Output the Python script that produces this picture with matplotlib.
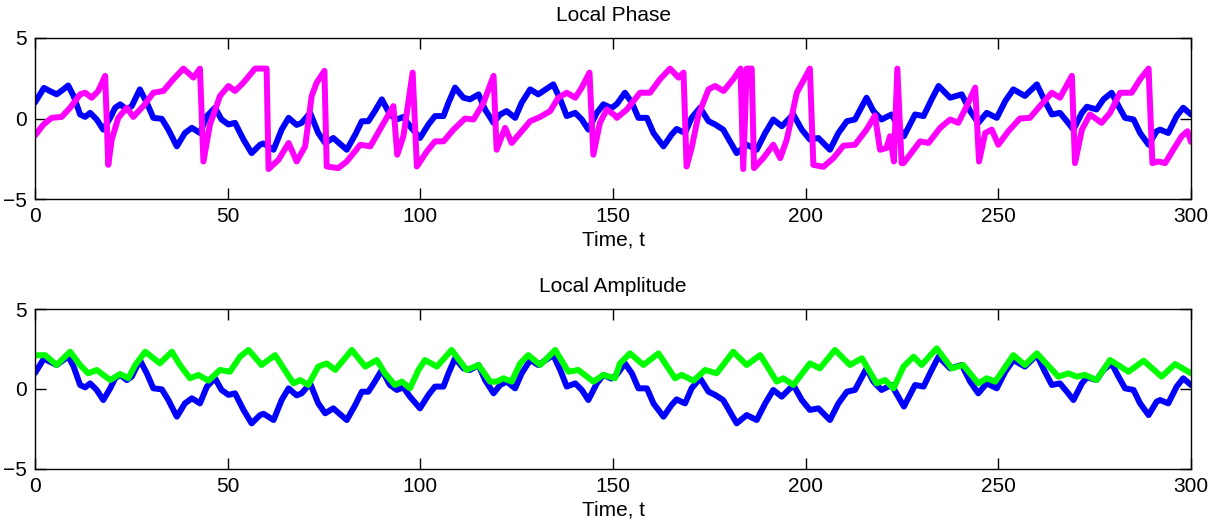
import numpy as np
from matplotlib import pyplot as plt

plt.rcParams['font.family'] = ['Liberation Sans', 'DejaVu Sans']
plt.rcParams['font.size'] = 15

# original signal (blue)
t_sig = [0, 2.3, 3.9, 5.6, 7.3, 8.6, 10.0, 11.7, 13.0, 14.3, 16.0, 17.7, 19.5, 20.8,
         22.1, 23.8, 25.1, 27.2, 29.0, 30.7, 32.9, 34.6, 36.8, 38.9, 40.7, 42.8, 44.6,
         46.7, 48.4, 50.2, 51.9, 54.1, 56.2, 58.4, 59.3, 61.9, 64.0, 65.8, 67.9, 69.2,
         71.4, 73.5, 75.3, 77.4, 80.9, 83.1, 84.8, 86.5, 88.2, 90.0, 92.1, 93.9, 95.6,
         97.3, 99.9, 102.1, 103.8, 106.0, 107.3, 109.0, 111.2, 112.9, 115.1, 116.8,
         119.0, 120.7, 122.4, 124.6, 126.3, 128.5, 130.6, 134.5, 136.3, 138.0, 140.2,
         141.9, 143.6, 145.8, 147.5, 149.6, 151.0, 153.1, 154.9, 156.6, 158.8, 160.5,
         163.1, 165.2, 166.5, 168.7, 170.4, 172.6, 174.8, 176.5, 178.6, 182.1, 184.7,
         187.3, 189.5, 191.6, 193.8, 196.8, 199.0, 201.1, 203.3, 206.3, 208.5, 210.7,
         212.8, 215.8, 217.6, 219.7, 222.3, 225.5, 228.4, 230.6, 232.7, 234.5, 237.5,
         240.5, 242.7, 244.8, 247.0, 249.6, 251.8, 253.9, 256.9, 260.0, 262.1, 263.9,
         266.0, 267.8, 269.5, 271.7, 273.0, 275.5, 277.3, 279.4, 281.2, 282.9, 285.1,
         286.8, 289.0, 291.1, 292.0, 294.1, 296.3, 298.0, 300.0]
sig = [1.0, 1.9, 1.7, 1.5, 1.8, 2.05, 1.4, 0.25, 0.1, 0.35, -0.06, -0.69, 0.04, 0.67,
       0.88, 0.56, 0.77, 1.81, 0.98, 0.04, -0.02, -0.69, -1.73, -0.9, -0.58, -0.9, 0.15,
       0.67, -0.06, -0.37, -0.27, -1.31, -2.15, -1.63, -1.55, -1.94, -0.69, 0.04, -0.4,
       -0.27, 0.35, -0.9, -1.52, -1.21, -1.94, -1.0, -0.17, -0.17, 0.46, 1.19, 0.25,
       -0.06, 0.1, -0.48, -1.21, -0.37, 0.15, 0.15, 0.98, 1.92, 1.29, 1.19, 1.5, 0.56,
       -0.27, 0.25, 0.46, 0.04, 0.98, 1.81, 1.5, 2.12, 1.19, 0.15, 0.35, -0.06, -0.69,
       0.35, 0.88, 0.65, 0.9, 1.6, 0.98, 0.04, 0.04, -0.9, -1.73, -1.0, -0.65, -0.9,
       0.04, 0.67, -0.17, -0.37, -0.69, -2.15, -1.63, -1.94, -0.9, -0.06, -0.48, 0.25,
       -0.69, -1.31, -1.21, -1.94, -0.9, -0.17, -0.06, 1.29, 0.46, -0.06, 0.25, -1.1,
       0.25, 0.15, 1.19, 2.02, 1.29, 1.5, 0.46, -0.27, 0.35, 0.04, 1.08, 1.81, 1.4,
       2.12, 1.08, 0.25, 0.35, -0.17, -0.69, 0.35, 0.73, 0.56, 1.19, 1.6, 0.77, 0.04,
       -0.06, -0.9, -1.63, -0.79, -0.69, -0.9, 0.15, 0.67, 0.25]

# local phase (magenta)
t_phase = [0, 2.2, 4.3, 6.9, 9.1, 11.7, 13.0, 14.7, 16.4, 18.2, 19.0, 19.9, 21.6, 23.8,
           25.5, 28.1, 30.7, 33.3, 35.9, 38.5, 41.1, 42.8, 43.7, 45.4, 48.0, 50.2, 51.9,
           54.1, 57.1, 60.1, 60.6, 63.2, 65.8, 67.9, 70.1, 71.8, 73.1, 75.1, 75.7, 78.7,
           80.9, 84.4, 87.0, 89.5, 93.0, 94.0, 95.6, 98.0, 99.1, 101.7, 103.8, 106.0,
           108.6, 111.6, 113.8, 116.4, 119.0, 119.8, 122.0, 123.7, 125.9, 128.5, 131.1,
           133.7, 135.8, 138.0, 140.2, 141.9, 143.9, 144.9, 146.6, 148.4, 150.5, 151.0,
           153.6, 157.0, 159.6, 162.2, 164.8, 167.0, 168.3, 169.1, 170.4, 172.2, 174.8,
           176.5, 178.7, 181.2, 183.1, 183.8, 184.7, 186.0, 186.6, 189.0, 191.6, 193.4,
           195.1, 197.7, 201.1, 202.0, 204.6, 207.2, 209.8, 212.8, 215.8, 218.0, 219.3,
           221.0, 221.9, 222.9, 223.8, 224.9, 225.4, 229.7, 231.9, 234.9, 237.5, 239.6,
           241.8, 244.0, 245.0, 246.6, 248.3, 250.0, 252.6, 255.6, 258.2, 260.8, 263.9,
           266.0, 269.1, 269.9, 271.7, 273.8, 276.8, 279.0, 281.6, 284.6, 286.8, 289.0,
           290.0, 291.6, 293.3, 295.4, 297.6, 299.1, 300.0]
phase = [-1.05, -0.37, 0.04, 0.1, 0.67, 1.5, 1.6, 1.29, 1.71, 2.65, -2.88, -1.31, 0.04,
         0.67, 0.1, 0.77, 1.6, 1.71, 2.44, 3.1, 2.54, 3.1, -2.67, -0.37, 1.4, 2.02, 1.71,
         2.23, 3.1, 3.1, -3.14, -2.56, -1.52, -2.67, -1.73, 1.4, 2.23, 2.96, -2.98, -3.08,
         -2.67, -1.63, -1.73, -0.69, 0.77, -2.25, -1.1, 2.85, -2.98, -2.04, -1.42, -1.42,
         -0.69, 0.0, -0.06, 0.98, 2.65, -1.94, -0.58, -1.52, -0.9, -0.17, 0.1, 0.46, 1.29,
         1.6, 1.29, 1.92, 2.85, -2.25, -0.27, 0.56, 0.19, 0.04, 0.56, 1.6, 1.6, 2.44, 3.1,
         2.54, 2.85, -2.98, -1.83, 0.25, 1.81, 2.02, 1.71, 2.44, 3.1, -3.14, 3.1, 3.1,
         -3.08, -2.46, -1.63, -2.46, -1.31, 1.6, 3.1, -2.88, -3.0, -2.46, -1.69, -1.63,
         -0.69, 0.19, -1.94, -1.83, -1.1, -2.67, 3.1, -2.77, -2.77, -1.42, -1.52, -0.58,
         -0.06, -0.27, 0.77, 1.92, -2.67, -0.9, -0.69, -1.63, -0.79, 0.0, 0.04, 0.77,
         1.6, 1.29, 2.65, -2.77, -0.69, 0.25, -0.27, 0.35, 1.6, 1.6, 2.44, 3.1, -2.77,
         -2.67, -2.77, -1.94, -1.1, -0.79, -1.45]

# local amplitude (green)
t_amp = [0, 2.6, 5.6, 9.1, 11.7, 13.8, 16.0, 19.5, 22.1, 24.2, 26.0, 28.6, 32.4, 35.5,
         37.6, 40.2, 42.4, 45.0, 48.0, 50.6, 53.2, 55.4, 58.8, 62.3, 64.5, 67.1, 68.8,
         70.9, 73.5, 75.7, 77.9, 82.2, 85.7, 88.7, 90.8, 93.4, 95.2, 97.3, 99.5, 101.2,
         104.3, 108.1, 112.0, 115.1, 118.1, 119.8, 121.6, 123.7, 125.9, 128.0, 131.1,
         135.0, 138.4, 141.0, 144.9, 147.5, 150.5, 151.8, 154.4, 157.9, 161.8, 166.1,
         167.8, 170.9, 173.9, 176.9, 181.2, 184.7, 188.2, 192.5, 194.2, 196.8, 201.1,
         203.7, 207.6, 211.5, 214.6, 218.4, 220.6, 222.8, 225.4, 228.0, 230.1, 234.0,
         237.9, 240.9, 244.8, 247.0, 249.2, 253.9, 256.9, 260.0, 265.6, 268.2, 270.4,
         272.5, 275.5, 279.0, 283.8, 287.7, 292.4, 295.9, 300.0]
amp = [2.1, 2.12, 1.5, 2.33, 1.5, 0.98, 1.19, 0.56, 0.94, 0.67, 1.5, 2.33, 1.6, 2.33,
       1.5, 0.67, 0.88, 0.52, 1.19, 1.08, 2.02, 2.44, 1.5, 2.12, 1.29, 0.35, 0.56, 0.25,
       1.4, 1.6, 1.19, 2.44, 1.4, 1.81, 0.98, 0.25, 0.46, 0.04, 1.19, 1.81, 1.4, 2.44,
       1.19, 1.5, 0.46, 0.46, 0.67, 0.46, 1.6, 2.12, 1.5, 2.44, 1.08, 1.19, 0.46, 0.88,
       0.67, 1.6, 2.23, 1.5, 2.23, 0.67, 0.88, 0.52, 1.19, 0.98, 2.33, 1.5, 2.12, 0.46,
       0.67, 0.25, 1.6, 1.29, 2.44, 1.5, 1.92, 0.35, 0.56, 0.04, 1.4, 2.02, 1.5, 2.54,
       1.29, 1.5, 0.35, 0.67, 0.46, 2.12, 1.5, 2.23, 0.77, 0.98, 0.77, 0.88, 0.56, 1.81,
       1.08, 1.77, 0.77, 1.56, 0.98]

fig = plt.figure(figsize=(12.17, 5.24), dpi=100)
ax1 = fig.add_axes([0.0288, 0.6202, 0.9498, 0.3073])
ax2 = fig.add_axes([0.0288, 0.105, 0.9498, 0.3053])

style = dict(linewidth=4.3, solid_joinstyle='round', solid_capstyle='round')
ax1.plot(t_sig, sig, color='#0000ff', **style)
ax1.plot(t_phase, phase, color='#ff00ff', **style)
ax1.set_title('Local Phase', pad=12, fontsize=15)

ax2.plot(t_sig, sig, color='#0000ff', **style)
ax2.plot(t_amp, amp, color='#00ff00', **style)
ax2.set_title('Local Amplitude', pad=12, fontsize=15)

for ax in (ax1, ax2):
    ax.set_xlim(0, 300)
    ax.set_ylim(-5, 5)
    ax.set_xticks(np.arange(0, 301, 50))
    ax.set_yticks([-5, 0, 5])
    ax.set_xlabel('Time, t', labelpad=3, fontsize=15)
    ax.tick_params(direction='in', length=8, width=1, top=True, right=True,
                   labelsize=15, pad=6)
    for s in ax.spines.values():
        s.set_linewidth(1.0)

plt.savefig('out.png', dpi=100)
